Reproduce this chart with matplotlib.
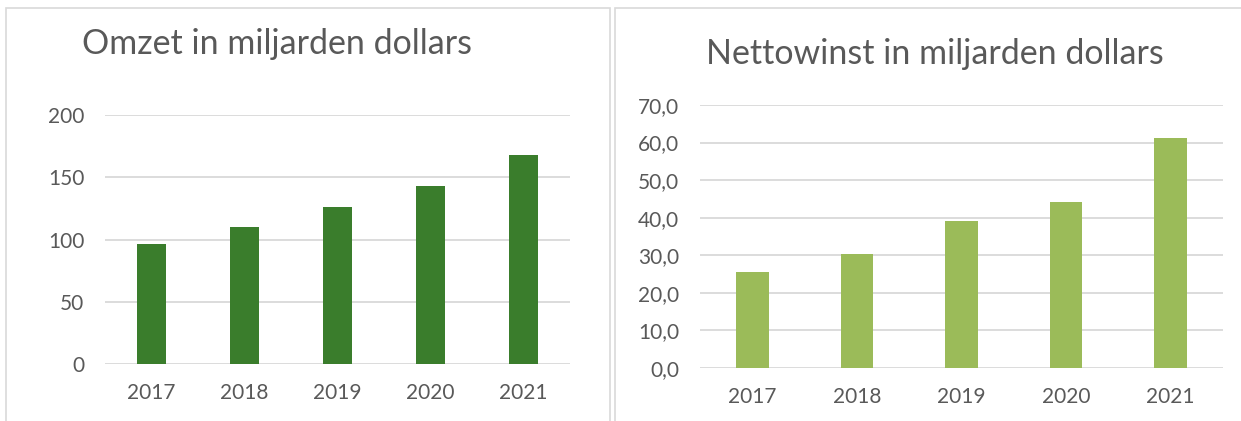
import matplotlib
matplotlib.use("Agg")
from matplotlib import pyplot as plt
from matplotlib.patches import Rectangle
from matplotlib.ticker import FuncFormatter

plt.rcParams['font.family'] = ['Lato', 'DejaVu Sans']

years = ["2017", "2018", "2019", "2020", "2021"]
omzet = [96.6, 110.4, 125.8, 143.0, 168.1]
nettowinst = [25.5, 30.3, 39.2, 44.3, 61.3]

text_col = '#595959'
grid_col = '#d9d9d9'

fig = plt.figure(figsize=(12.41, 4.21), dpi=100)

# panel borders
W, H = 1241.0, 421.0
fig.patches.append(Rectangle((6 / W, -0.1), 604 / W, 1.1 - 8 / H, transform=fig.transFigure,
                             fill=False, edgecolor=grid_col, linewidth=1.2))
fig.patches.append(Rectangle((615 / W, -0.1), 640 / W, 1.1 - 8 / H, transform=fig.transFigure,
                             fill=False, edgecolor=grid_col, linewidth=1.2))


def style(ax, ymax, step):
    ax.set_xlim(-0.5, 4.5)
    ax.set_ylim(0, ymax)
    ax.set_yticks([step * i for i in range(int(round(ymax / step)) + 1)])
    ax.grid(axis='y', color=grid_col, linewidth=1.3)
    ax.set_axisbelow(True)
    for s in ax.spines.values():
        s.set_visible(False)
    ax.tick_params(length=0, labelsize=15, labelcolor=text_col)
    ax.tick_params(axis='y', pad=15)
    ax.tick_params(axis='x', pad=14)


ax1 = fig.add_axes([105 / W, (H - 364) / H, 465 / W, 249 / H])
ax1.bar(range(len(years)), omzet, width=0.32, color='#3a7d2c', zorder=3)
ax1.set_xticks(range(len(years)))
ax1.set_xticklabels(years)
style(ax1, 200, 50)
fig.text(277 / W, 1 - 44 / H, "Omzet in miljarden dollars", ha='center', va='center',
         fontsize=24.5, color=text_col)

ax2 = fig.add_axes([700 / W, (H - 368) / H, 523 / W, 263 / H])
ax2.bar(range(len(years)), nettowinst, width=0.31, color='#9bbb59', zorder=3)
ax2.set_xticks(range(len(years)))
ax2.set_xticklabels(years)
style(ax2, 70, 10)
ax2.yaxis.set_major_formatter(FuncFormatter(lambda v, p: f"{v:.1f}".replace('.', ',')))
fig.text(935 / W, 1 - 54 / H, "Nettowinst in miljarden dollars", ha='center', va='center',
         fontsize=24.5, color=text_col)

fig.savefig('out.png', dpi=100)
plt.close(fig)
